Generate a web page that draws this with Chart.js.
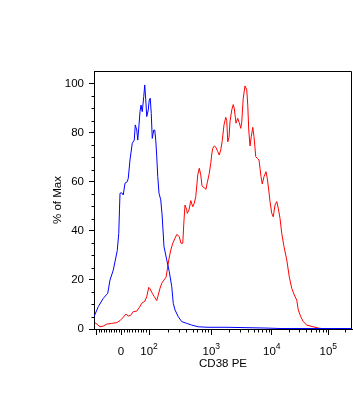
<!DOCTYPE html>
<html>
<head>
<meta charset="utf-8">
<script src="https://cdn.jsdelivr.net/npm/chart.js@4"></script>
<style>
  html, body { margin: 0; padding: 0; background: #fff; }
  canvas { display: block; }
</style>
</head>
<body>
<canvas id="cd38-histogram" width="353" height="405"></canvas>
<script>
// x is the display channel (0..1032 across the plot), y is % of max
const blueChannels = [0, 17, 37, 55, 64, 77, 93, 99, 102, 104, 111, 117, 124, 133, 137, 144, 153, 161, 165, 171, 175, 180, 184, 188, 193, 199, 203, 207, 211, 217, 221, 225, 229, 233, 239, 243, 247, 251, 255, 260, 267, 272, 276, 280, 291, 301, 311, 317, 324, 337, 351, 371, 391, 417, 456, 532, 684, 744, 1032];
const bluePercent = [5.0, 9.1, 12.5, 14.6, 20, 24, 32, 39, 49, 55.4, 55.6, 54.7, 59.5, 60.1, 61.5, 69, 75.8, 77.1, 83.3, 81.2, 77.1, 83.3, 88.7, 91.4, 88.7, 94.9, 99.6, 93.5, 86.7, 89.4, 93.5, 94.2, 88, 77.8, 81.2, 81.2, 77.1, 70.3, 62.2, 55.4, 52.7, 47, 40.4, 33.6, 28.2, 23.4, 17.3, 10.5, 7.8, 5, 3, 2.3, 1.6, 0.9, 0.7, 0.7, 0.4, 0.2, 0.2];

const redChannels = [4, 8, 24, 37, 51, 71, 91, 104, 117, 128, 137, 147, 157, 171, 181, 191, 204, 211, 219, 224, 233, 241, 251, 257, 264, 271, 280, 288, 293, 299, 307, 315, 324, 331, 341, 348, 355, 360, 364, 371, 373, 380, 387, 395, 401, 407, 411, 415, 421, 427, 432, 440, 448, 453, 461, 467, 471, 475, 481, 488, 495, 501, 507, 513, 520, 527, 531, 535, 540, 544, 551, 557, 561, 568, 575, 581, 587, 591, 597, 604, 611, 615, 619, 624, 629, 635, 640, 647, 653, 660, 664, 668, 673, 680, 688, 693, 699, 704, 711, 717, 724, 731, 737, 744, 751, 760, 771, 781, 791, 801, 811, 817, 827, 837, 851, 877, 897, 917, 1032];
const redPercent = [2.5, 2.3, 0.9, 1.2, 2, 2.3, 2.6, 3.4, 4.8, 6.1, 5.3, 5.6, 7.1, 7.3, 8.7, 10.5, 11.4, 13.2, 17, 16.4, 14.6, 13.2, 11.6, 13.9, 16.6, 18.7, 20, 21.1, 24.1, 28.2, 32.2, 35, 37, 38.6, 37.7, 35, 35, 44.5, 50.6, 48.6, 47.2, 48.6, 52.4, 49.9, 51.3, 54, 58.4, 62.9, 65.6, 62.9, 58.4, 57.7, 57, 59.7, 63.5, 67.6, 71.4, 73.7, 74.7, 74.1, 72.4, 71, 73.1, 76.9, 83.3, 86.4, 85, 76.4, 78.2, 84.6, 89.4, 91.6, 90.1, 84, 86, 84.2, 81.9, 84.6, 94.2, 99.2, 97.6, 91.4, 81.2, 74.7, 78.5, 82.3, 78.5, 70.3, 69.7, 69, 65.6, 62.2, 59.2, 62.2, 64.2, 61.5, 56.7, 52, 47.2, 45.8, 50.6, 52, 49.3, 45.2, 39, 33.6, 28.2, 21.3, 16.6, 13.9, 11.8, 7.8, 5, 3, 1.6, 0.9, 0.4, 0.1, 0];

// biexponential display: fluorescence value -> channel anchors
const anchorValues = [-100, 0, 100, 1000, 10000, 100000, 1000000];
const anchorChannels = [8, 108, 220, 469, 711, 937, 1163];

const majorTickValues = [-100, 0, 100, 1000, 10000, 100000];
// base and exponent of each major tick label ('' = unlabelled)
const majorTickBases = ['', '0', '10', '10', '10', '10'];
const majorTickExponents = ['', '', '2', '3', '4', '5'];
const minorTickValues = [-90, -80, -70, -60, -50, -40, -30, -20, -10, 10, 20, 30, 40, 50, 60, 70, 80, 90,
  200, 300, 400, 500, 600, 700, 800, 900, 2000, 3000, 4000, 5000, 6000, 7000, 8000, 9000,
  20000, 30000, 40000, 50000, 60000, 70000, 80000, 90000, 200000];

const yMajorTicks = [0, 20, 40, 60, 80, 100];
const yMinorTicks = [5, 10, 15, 25, 30, 35, 45, 50, 55, 65, 70, 75, 85, 90, 95];

function toChannel(v) {
  for (let i = 0; i < anchorValues.length - 1; i++) {
    const a = anchorValues[i], b = anchorValues[i + 1];
    if (v >= a && v <= b) {
      let t = (v - a) / (b - a);
      if (a >= 100) t = Math.log10(v / a) / Math.log10(b / a);
      return anchorChannels[i] + t * (anchorChannels[i + 1] - anchorChannels[i]);
    }
  }
  return anchorChannels[anchorChannels.length - 1];
}

const fontFamily = '"Liberation Sans", Arial, sans-serif';

const frameAndMinorTicks = {
  id: 'frameAndMinorTicks',
  afterDraw(chart) {
    const {ctx, chartArea} = chart;
    const xs = chart.scales.x, ys = chart.scales.y;
    const left = Math.round(chartArea.left) + 0.5;
    const right = Math.round(chartArea.right) - 0.5;
    const top = Math.round(chartArea.top) + 0.5;
    const bottom = Math.round(chartArea.bottom) + 0.5;
    ctx.save();
    ctx.strokeStyle = '#000';
    ctx.lineWidth = 1;
    ctx.beginPath();
    ctx.moveTo(left, top);
    ctx.lineTo(right, top);
    ctx.lineTo(right, bottom);
    ctx.stroke();
    ctx.beginPath();
    minorTickValues.forEach(v => {
      const px = Math.round(xs.getPixelForValue(toChannel(v))) + 0.5;
      if (px < chartArea.left || px > chartArea.right) return;
      ctx.moveTo(px, bottom);
      ctx.lineTo(px, bottom + 3);
    });
    yMinorTicks.forEach(v => {
      const py = Math.round(ys.getPixelForValue(v)) + 0.5;
      ctx.moveTo(left, py);
      ctx.lineTo(left - 3, py);
    });
    ctx.stroke();

    // x tick labels with raised exponents
    ctx.fillStyle = '#000';
    ctx.textBaseline = 'alphabetic';
    ctx.textAlign = 'left';
    majorTickValues.forEach((v, i) => {
      const base = majorTickBases[i], exp = majorTickExponents[i];
      if (!base) return;
      const px = xs.getPixelForValue(toChannel(v));
      ctx.font = '11.5px ' + fontFamily;
      const bw = ctx.measureText(base).width;
      ctx.font = '8.5px ' + fontFamily;
      const ew = exp ? ctx.measureText(exp).width : 0;
      const x0 = px - (bw + ew) / 2;
      ctx.font = '11.5px ' + fontFamily;
      ctx.fillText(base, x0, bottom + 25);
      if (exp) {
        ctx.font = '8.5px ' + fontFamily;
        ctx.fillText(exp, x0 + bw, bottom + 19);
      }
    });
    ctx.restore();
  }
};

document.addEventListener('DOMContentLoaded', function() {
  const ctx = document.getElementById('cd38-histogram').getContext('2d');
  new Chart(ctx, {
    type: 'line',
    data: {
      datasets: [
        {
          label: 'Unstained',
          data: blueChannels.map((c, i) => ({x: c, y: bluePercent[i]})),
          borderColor: '#0000ff',
          borderWidth: 1,
          pointRadius: 0,
          tension: 0,
          fill: false
        },
        {
          label: 'CD38 PE',
          data: redChannels.map((c, i) => ({x: c, y: redPercent[i]})),
          borderColor: '#ff0000',
          borderWidth: 1,
          pointRadius: 0,
          tension: 0,
          fill: false
        }
      ]
    },
    options: {
      responsive: false,
      animation: false,
      layout: { padding: { top: 71, right: 1, bottom: 0, left: 0 } },
      plugins: {
        legend: { display: false },
        tooltip: { enabled: false }
      },
      scales: {
        x: {
          type: 'linear',
          min: 0,
          max: 1032,
          afterFit: s => { s.height = 76; },
          afterBuildTicks: s => { s.ticks = majorTickValues.map(v => ({value: toChannel(v)})); },
          ticks: {
            display: false,
            autoSkip: false,
            maxRotation: 0,
            minRotation: 0
          },
          grid: { drawOnChartArea: false, tickLength: 6, color: '#000' },
          border: { color: '#000', width: 1 },
          title: {
            display: true,
            text: 'CD38 PE',
            color: '#000',
            font: { family: fontFamily, size: 11.5 },
            padding: 34.6
          }
        },
        y: {
          type: 'linear',
          min: 0,
          max: 105.3,
          afterFit: s => { s.width = 94; },
          afterBuildTicks: s => { s.ticks = yMajorTicks.map(v => ({value: v})); },
          ticks: {
            padding: 5,
            color: '#000',
            font: { family: fontFamily, size: 11.5 }
          },
          grid: { drawOnChartArea: false, tickLength: 5, color: '#000' },
          border: { color: '#000', width: 1 },
          title: {
            display: true,
            text: '% of Max',
            color: '#000',
            font: { family: fontFamily, size: 11.5 },
            padding: 51
          }
        }
      }
    },
    plugins: [frameAndMinorTicks]
  });
});
</script>
</body>
</html>
